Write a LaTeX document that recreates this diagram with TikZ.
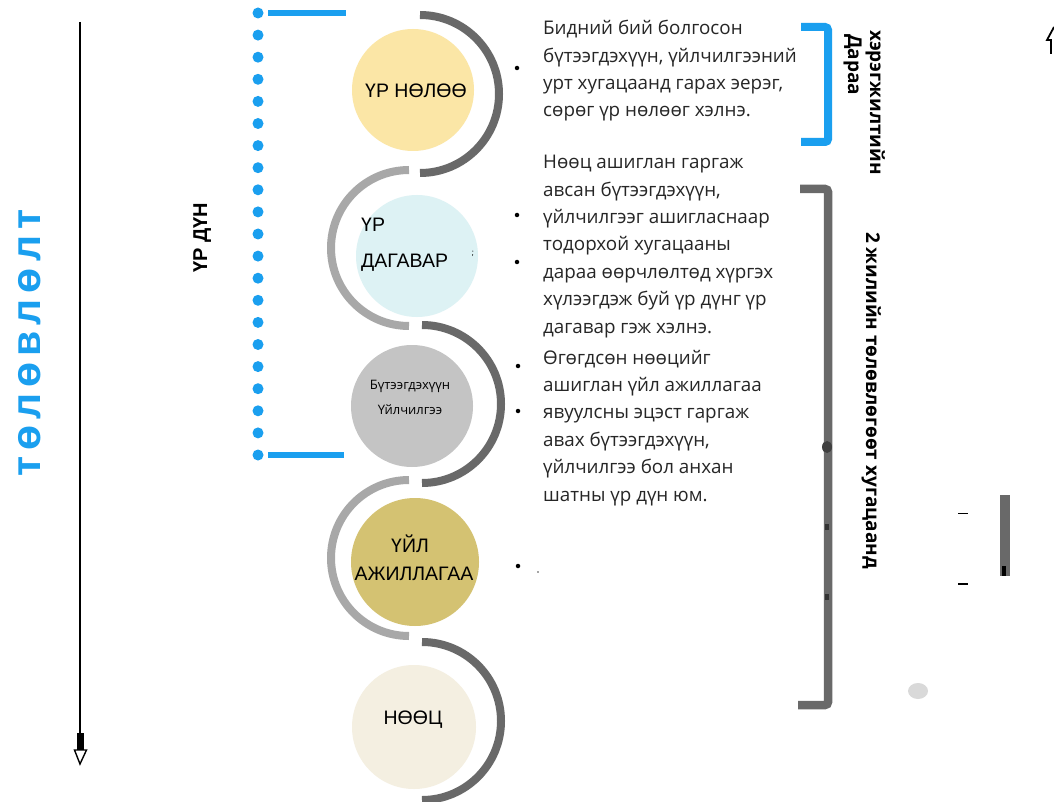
\documentclass[tikz,border=0pt]{standalone}
\usepackage{fontspec}
\setmainfont{Open Sans}
\newfontfamily\circfont{Liberation Sans}
\newfontfamily\labfont{Liberation Sans}
\newfontfamily\bigfont[LetterSpace=15]{Liberation Sans}
\usetikzlibrary{arrows.meta}
\definecolor{dblue}{HTML}{1A9FEF}
\definecolor{darc}{HTML}{696969}
\definecolor{larc}{HTML}{A8A8A8}
\definecolor{txt}{HTML}{262626}
\definecolor{cyel}{HTML}{FBE6A6}
\definecolor{ccya}{HTML}{DDF2F4}
\definecolor{cgra}{HTML}{C4C4C4}
\definecolor{cgol}{HTML}{D4C272}
\definecolor{ccre}{HTML}{F4EFE1}
\tikzset{
  circ/.style={circle, minimum size=122pt, inner sep=0pt, draw=none},
  darcs/.style={line width=8pt, draw=darc},
  larcs/.style={line width=8pt, draw=larc},
  body/.style={anchor=base west, align=left, text=txt, inner sep=0pt,
    font=\fontsize{18.8}{27.4}\selectfont},
  bul/.style={circle, fill=black, inner sep=0pt, minimum size=4.5pt},
  clab/.style={font=\circfont\fontsize{19.5}{22}\selectfont, text=black, inner sep=0pt},
  slab/.style={font=\fontsize{13}{16}\selectfont, text=black, inner sep=0pt},
  rotlab/.style={font=\bfseries\fontsize{19}{22}\selectfont, text=black, inner sep=0pt, anchor=base west},
  bracketblue/.style={line width=8pt, draw=dblue, rounded corners=3pt},
  bracketgray/.style={line width=8.5pt, draw=darc, rounded corners=3pt}
}
\begin{document}
\begin{tikzpicture}[x=1pt,y=-1pt]
\useasboundingbox[fill=white] (0,0) rectangle (1054,802);

% left time arrow
\coordinate (atop) at (80,22);
\coordinate (abot) at (80,750);
\draw[line width=2pt] (atop) -- (abot);
\fill (77,733) rectangle (84,750);
\draw[line width=1.4pt, fill=white] (74.5,750) -- (86.5,750) -- (80,764) -- cycle;

% blue vertical title
\node[rotate=90, anchor=base west, inner sep=0pt, text=dblue,
  font=\bigfont\bfseries\fontsize{41}{45}\selectfont] (plan) at (40,477) {төлөвлөлт};

% ҮР ДҮН
\node[rotate=90, anchor=base west, inner sep=0pt, text=black,
  font=\labfont\bfseries\fontsize{20}{22}\selectfont] (urdun) at (207,273) {ҮР ДҮН};

% blue dotted bracket
\foreach \i in {0,...,20} {
  \fill[dblue] (258,13+\i*22.1) circle (5.5pt);
}
\coordinate (bt1) at (268,13);
\coordinate (bt2) at (346,13);
\coordinate (bb1) at (268,455);
\coordinate (bb2) at (344,455);
\draw[dblue, line width=5.5pt] (bt1) -- (bt2);
\draw[dblue, line width=5.5pt] (bb1) -- (bb2);

% arcs
\draw[darcs] (420,15) arc[start angle=-90, end angle=90, radius=79];
\draw[larcs] (409,170) arc[start angle=-90, end angle=-270, radius=78];
\draw[darcs] (422,325) arc[start angle=-90, end angle=90, radius=79];
\draw[larcs] (409,480) arc[start angle=-90, end angle=-270, radius=78];
\draw[darcs] (422,642) arc[start angle=-90, end angle=90, radius=79];

% circles
\node[circ, fill=cyel] (c1) at (413,90) {};
\node[circ, fill=ccya] (c2) at (417,256) {};
\node[circ, fill=cgra] (c3) at (412,406) {};
\node[circ, fill=cgol, minimum size=128pt] (c4) at (415,562) {};
\node[circ, fill=ccre, minimum size=124pt] (c5) at (414,727) {};

% circle labels
\node[clab, anchor=base] (t1) at (416,98) {ҮР НӨЛӨӨ};
\node[clab, anchor=base west] (t2a) at (361,232) {ҮР};
\node[clab, anchor=base west] (t2b) at (361,268) {ДАГАВАР};
\node[font=\fontsize{8}{9}\selectfont, inner sep=0pt] (semi) at (473,254) {;};
\node[slab, anchor=base] (t3a) at (410,389) {Бүтээгдэхүүн};
\node[slab, anchor=base] (t3b) at (410,414) {Үйлчилгээ};
\node[clab, anchor=base] (t4a) at (410,552) {ҮЙЛ};
\node[clab, anchor=base] (t4b) at (414,580) {АЖИЛЛАГАА};
\node[clab, anchor=base] (t5) at (413,724) {НӨӨЦ};

% text blocks (base = baseline of last line)
\node[body] (b1) at (543,117) {Бидний бий болгосон\\бүтээгдэхүүн, үйлчилгээний\\урт хугацаанд гарах эерэг,\\сөрөг үр нөлөөг хэлнэ.};
\node[body] (b2) at (543,333) {Нөөц ашиглан гаргаж\\авсан бүтээгдэхүүн,\\үйлчилгээг ашигласнаар\\тодорхой хугацааны\\дараа өөрчлөлтөд хүргэх\\хүлээгдэж буй үр дүнг үр\\дагавар гэж хэлнэ.};
\node[body] (b3) at (543,501) {Өгөгдсөн нөөцийг\\ашиглан үйл ажиллагаа\\явуулсны эцэст гаргаж\\авах бүтээгдэхүүн,\\үйлчилгээ бол анхан\\шатны үр дүн юм.};

% bullets
\node[bul] (p1) at (517,68) {};
\node[bul] (p2) at (517,215) {};
\node[bul] (p3) at (517,262) {};
\node[bul] (p4) at (518,366) {};
\node[bul] (p5) at (518,411) {};
\node[bul] (p6) at (518,566) {};
\node[circle, fill=black!70, inner sep=0pt, minimum size=1.6pt] (p7) at (538,572) {};

% brackets
\draw[bracketblue] (801,27) -- (828,27) -- (828,142) -- (801,142);
\draw[bracketgray] (800,189) -- (828,189) -- (828,705) -- (798,705);
\fill[black!80] (825,524) rectangle (829,530);
\fill[black!80] (825,594) rectangle (829,600);
\fill[black!75] (827,447) ellipse (5pt and 6pt);

% rotated labels right
\node[rotlab, rotate=-90] (l1) at (870,30) {хэрэгжилтийн};
\node[rotlab, rotate=-90] (l2) at (848,34) {Дараа};
\node[rotlab, rotate=-90] (l3) at (866,232) {2 жилийн төлөвлөгөөт хугацаанд};

% stray marks at the right
\fill[darc] (1000,495) rectangle (1010,576);
\fill[black] (1002,566) rectangle (1006,576);
\draw[black, line width=0.6pt] (958,513) -- (968,513);
\draw[black, line width=2pt] (958,584) -- (968,584);
\fill[black!15] (918,691) ellipse (10pt and 8pt);
\draw[black, line width=1.8pt] (1054,27) -- (1047,40) -- (1051,40) -- (1051,54);
\end{tikzpicture}
\end{document}
